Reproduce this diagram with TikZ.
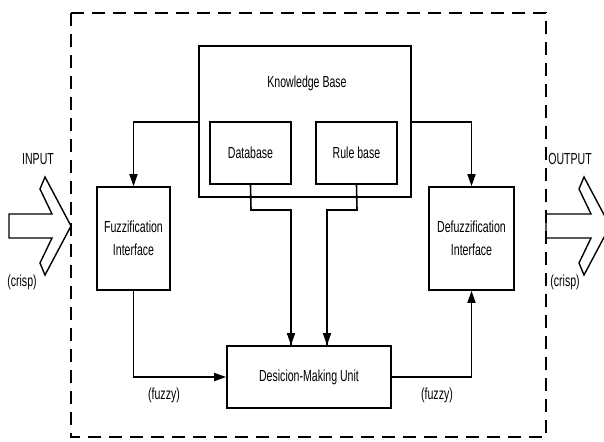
\documentclass[tikz,border=0pt]{standalone}
\usepackage{fontspec}
\setmainfont{Liberation Sans}[FakeStretch=0.66]
\usetikzlibrary{arrows.meta}
\begin{document}
\begin{tikzpicture}[x=1pt,y=-1pt,
  box/.style={draw,line width=1.6pt,inner sep=0pt},
  lbl/.style={font=\fontsize{16}{23}\selectfont,align=center,inner sep=0pt},
  conn/.style={line width=1.6pt,-{Triangle[length=12pt,width=8pt]}},
  wire/.style={line width=1.6pt},
  bigarrow/.style={draw,line width=1.4pt,line join=miter}]
\useasboundingbox (0,0) rectangle (604,441);
% dashed boundary
\draw[line width=1.8pt,dash pattern=on 13pt off 8pt] (71,13) rectangle (546,437);
% boxes
\node[box,minimum width=212pt,minimum height=151pt] (kb) at (305,121.5) {};
\node[lbl] (kbt) at (307,83) {Knowledge Base};
\node[box,minimum width=81pt,minimum height=62pt,lbl] (db) at (250.5,153) {Database};
\node[box,minimum width=81pt,minimum height=62pt,lbl] (rb) at (356.5,153) {Rule base};
\node[box,minimum width=73pt,minimum height=103pt,lbl] (fz) at (133.5,238.5) {Fuzzification\\Interface};
\node[box,minimum width=85pt,minimum height=103pt,lbl] (dfz) at (471.5,238.5) {Defuzzification\\Interface};
\node[box,minimum width=164pt,minimum height=62pt,lbl] (dmu) at (309,377) {Desicion-Making Unit};
% connectors
\coordinate (kbl) at (199,122);
\coordinate (kbr) at (411,122);
\draw[conn] (kbl) -| (fz.north);
\draw[conn] (kbr) -| (dfz.north);
\draw[wire] (db.south) -- (251,210) -| ([xshift=-18pt]dmu.north);
\draw[conn] (291,209) -- ([xshift=-18pt]dmu.north);
\draw[wire] (rb.south) -- (357,210) -| ([xshift=18pt]dmu.north);
\draw[conn] (327,209) -- ([xshift=18pt]dmu.north);
\draw[conn] (fz.south) |- (dmu.west);
\draw[conn] (dmu.east) -| (dfz.south);
% labels
\node[lbl] (fzl) at (164,395) {(fuzzy)};
\node[lbl] (fzr) at (437,395) {(fuzzy)};
\node[lbl] (inp) at (38,159) {INPUT};
\node[lbl] (outp) at (570,159) {OUTPUT};
\node[lbl] (cl) at (22,282) {(crisp)};
\node[lbl] (cr) at (565,282) {(crisp)};
% input big arrow
\draw[bigarrow] (45,177) -- (71,226) -- (45,275) -- (40,263) -- (52,238) -- (9,238) -- (9,214) -- (52,214) -- (40,189) -- cycle;
% output big arrow
\begin{scope}[xshift=539pt]
\draw[bigarrow] (45,177) -- (71,226) -- (45,275) -- (40,263) -- (52,238) -- (7,238) -- (7,214) -- (52,214) -- (40,189) -- cycle;
\end{scope}
\end{tikzpicture}
\end{document}
